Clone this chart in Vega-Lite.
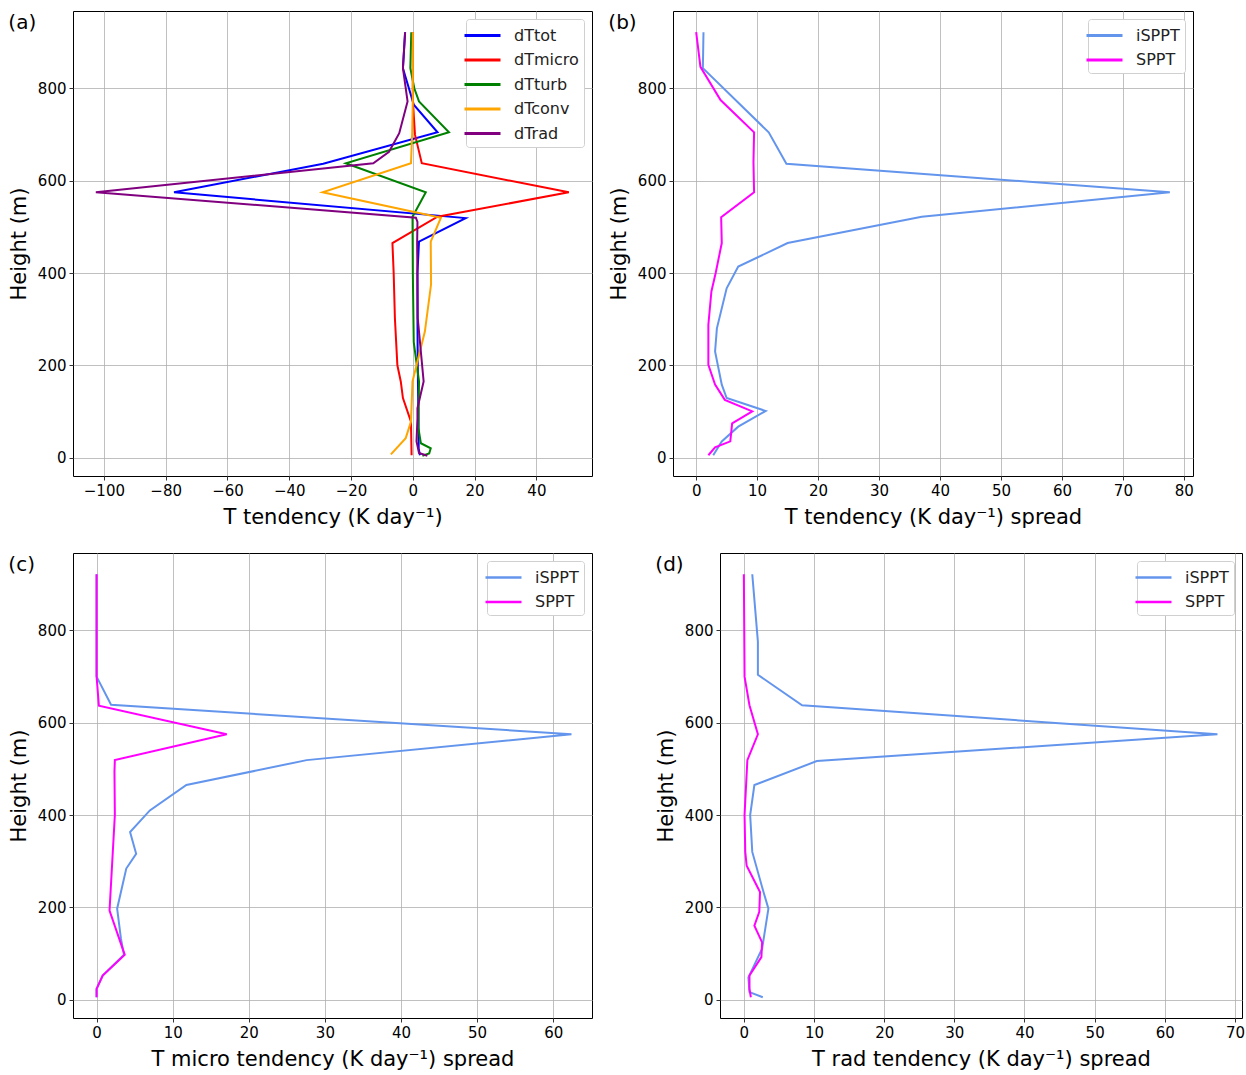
{
  "$schema": "https://vega.github.io/schema/vega-lite/v6.json",
  "padding": {"left": 7, "top": 10, "right": 0, "bottom": 0},
  "background": "white",
  "datasets": {
    "a": [
      {"s": "dTtot", "h": 922, "v": -2.5}, {"s": "dTtot", "h": 844, "v": -3.2}, {"s": "dTtot", "h": 765, "v": 0.3}, {"s": "dTtot", "h": 705, "v": 8.0}, {"s": "dTtot", "h": 637, "v": -29}, {"s": "dTtot", "h": 575, "v": -77.3}, {"s": "dTtot", "h": 519, "v": 17.1}, {"s": "dTtot", "h": 468, "v": 2.0}, {"s": "dTtot", "h": 400, "v": 1.5}, {"s": "dTtot", "h": 300, "v": 1.5}, {"s": "dTtot", "h": 200, "v": 1.6}, {"s": "dTtot", "h": 92, "v": 1.8}, {"s": "dTtot", "h": 20, "v": 1.9}, {"s": "dTtot", "h": 5, "v": 2.3},
      {"s": "dTmicro", "h": 922, "v": 0}, {"s": "dTmicro", "h": 845, "v": 0}, {"s": "dTmicro", "h": 775, "v": 0}, {"s": "dTmicro", "h": 700, "v": 0.7}, {"s": "dTmicro", "h": 638, "v": 2.9}, {"s": "dTmicro", "h": 575, "v": 50.5}, {"s": "dTmicro", "h": 522, "v": 8.0}, {"s": "dTmicro", "h": 465, "v": -6.6}, {"s": "dTmicro", "h": 400, "v": -6.2}, {"s": "dTmicro", "h": 302, "v": -5.8}, {"s": "dTmicro", "h": 200, "v": -5.0}, {"s": "dTmicro", "h": 165, "v": -3.9}, {"s": "dTmicro", "h": 129, "v": -3.2}, {"s": "dTmicro", "h": 78, "v": -0.6}, {"s": "dTmicro", "h": 5, "v": -0.4},
      {"s": "dTturb", "h": 922, "v": -0.5}, {"s": "dTturb", "h": 844, "v": -0.8}, {"s": "dTturb", "h": 800, "v": 0.5}, {"s": "dTturb", "h": 772, "v": 2.0}, {"s": "dTturb", "h": 705, "v": 11.7}, {"s": "dTturb", "h": 638, "v": -21.7}, {"s": "dTturb", "h": 575, "v": 4.2}, {"s": "dTturb", "h": 522, "v": -0.1}, {"s": "dTturb", "h": 400, "v": 0}, {"s": "dTturb", "h": 250, "v": 0.3}, {"s": "dTturb", "h": 165, "v": 2.0}, {"s": "dTturb", "h": 64, "v": 1.8}, {"s": "dTturb", "h": 31, "v": 2.6}, {"s": "dTturb", "h": 20, "v": 5.8}, {"s": "dTturb", "h": 9, "v": 5.3}, {"s": "dTturb", "h": 4, "v": 3.1},
      {"s": "dTconv", "h": 922, "v": 0}, {"s": "dTconv", "h": 845, "v": 0}, {"s": "dTconv", "h": 775, "v": 0}, {"s": "dTconv", "h": 705, "v": -0.2}, {"s": "dTconv", "h": 638, "v": -0.6}, {"s": "dTconv", "h": 575, "v": -29.2}, {"s": "dTconv", "h": 520, "v": 9.1}, {"s": "dTconv", "h": 468, "v": 5.8}, {"s": "dTconv", "h": 375, "v": 5.9}, {"s": "dTconv", "h": 273, "v": 3.9}, {"s": "dTconv", "h": 165, "v": -0.1}, {"s": "dTconv", "h": 78, "v": -0.6}, {"s": "dTconv", "h": 42, "v": -2.3}, {"s": "dTconv", "h": 7, "v": -7.1},
      {"s": "dTrad", "h": 922, "v": -2.5}, {"s": "dTrad", "h": 844, "v": -3.2}, {"s": "dTrad", "h": 772, "v": -1.7}, {"s": "dTrad", "h": 703, "v": -4.4}, {"s": "dTrad", "h": 663, "v": -7.7}, {"s": "dTrad", "h": 638, "v": -12.8}, {"s": "dTrad", "h": 575, "v": -102.6}, {"s": "dTrad", "h": 520, "v": 1.0}, {"s": "dTrad", "h": 511, "v": 1.5}, {"s": "dTrad", "h": 465, "v": 1.4}, {"s": "dTrad", "h": 302, "v": 1.6}, {"s": "dTrad", "h": 165, "v": 3.5}, {"s": "dTrad", "h": 107, "v": 1.5}, {"s": "dTrad", "h": 85, "v": 1.5}, {"s": "dTrad", "h": 35, "v": 1.2}, {"s": "dTrad", "h": 10, "v": 2.0}, {"s": "dTrad", "h": 4, "v": 4.7}
    ],
    "b": [
      {"s": "iSPPT", "h": 922, "v": 1.2}, {"s": "iSPPT", "h": 844, "v": 1.1}, {"s": "iSPPT", "h": 705, "v": 11.9}, {"s": "iSPPT", "h": 637, "v": 14.8}, {"s": "iSPPT", "h": 575, "v": 77.7}, {"s": "iSPPT", "h": 522, "v": 37.0}, {"s": "iSPPT", "h": 465, "v": 15.0}, {"s": "iSPPT", "h": 414, "v": 6.9}, {"s": "iSPPT", "h": 367, "v": 5.0}, {"s": "iSPPT", "h": 280, "v": 3.4}, {"s": "iSPPT", "h": 230, "v": 3.1}, {"s": "iSPPT", "h": 158, "v": 4.2}, {"s": "iSPPT", "h": 129, "v": 5.0}, {"s": "iSPPT", "h": 101, "v": 11.4}, {"s": "iSPPT", "h": 67, "v": 6.9}, {"s": "iSPPT", "h": 35, "v": 4.2}, {"s": "iSPPT", "h": 5, "v": 2.8},
      {"s": "SPPT", "h": 922, "v": 0}, {"s": "SPPT", "h": 847, "v": 0.7}, {"s": "SPPT", "h": 775, "v": 4.0}, {"s": "SPPT", "h": 705, "v": 9.5}, {"s": "SPPT", "h": 640, "v": 9.4}, {"s": "SPPT", "h": 575, "v": 9.5}, {"s": "SPPT", "h": 521, "v": 4.1}, {"s": "SPPT", "h": 465, "v": 4.2}, {"s": "SPPT", "h": 400, "v": 3.2}, {"s": "SPPT", "h": 360, "v": 2.5}, {"s": "SPPT", "h": 288, "v": 2.0}, {"s": "SPPT", "h": 201, "v": 2.0}, {"s": "SPPT", "h": 158, "v": 3.1}, {"s": "SPPT", "h": 125, "v": 4.7}, {"s": "SPPT", "h": 100, "v": 9.2}, {"s": "SPPT", "h": 74, "v": 5.9}, {"s": "SPPT", "h": 35, "v": 5.6}, {"s": "SPPT", "h": 22, "v": 3.1}, {"s": "SPPT", "h": 5, "v": 2.0}
    ],
    "c": [
      {"s": "iSPPT", "h": 922, "v": 0}, {"s": "iSPPT", "h": 700, "v": 0}, {"s": "iSPPT", "h": 639, "v": 1.9}, {"s": "iSPPT", "h": 575, "v": 62.4}, {"s": "iSPPT", "h": 519, "v": 27.6}, {"s": "iSPPT", "h": 465, "v": 11.8}, {"s": "iSPPT", "h": 410, "v": 7.0}, {"s": "iSPPT", "h": 363, "v": 4.4}, {"s": "iSPPT", "h": 316, "v": 5.2}, {"s": "iSPPT", "h": 284, "v": 3.9}, {"s": "iSPPT", "h": 197, "v": 2.7}, {"s": "iSPPT", "h": 132, "v": 3.2}, {"s": "iSPPT", "h": 97, "v": 3.6}, {"s": "iSPPT", "h": 52, "v": 0.8}, {"s": "iSPPT", "h": 23, "v": 0}, {"s": "iSPPT", "h": 5, "v": 0},
      {"s": "SPPT", "h": 922, "v": 0}, {"s": "SPPT", "h": 700, "v": 0}, {"s": "SPPT", "h": 637, "v": 0.3}, {"s": "SPPT", "h": 575, "v": 17.1}, {"s": "SPPT", "h": 519, "v": 2.4}, {"s": "SPPT", "h": 494, "v": 2.35}, {"s": "SPPT", "h": 400, "v": 2.4}, {"s": "SPPT", "h": 193, "v": 1.7}, {"s": "SPPT", "h": 97, "v": 3.7}, {"s": "SPPT", "h": 52, "v": 0.8}, {"s": "SPPT", "h": 23, "v": 0}, {"s": "SPPT", "h": 5, "v": 0}
    ],
    "d": [
      {"s": "iSPPT", "h": 922, "v": 1.2}, {"s": "iSPPT", "h": 776, "v": 2.0}, {"s": "iSPPT", "h": 704, "v": 2.0}, {"s": "iSPPT", "h": 638, "v": 8.3}, {"s": "iSPPT", "h": 575, "v": 67.5}, {"s": "iSPPT", "h": 517, "v": 10.4}, {"s": "iSPPT", "h": 465, "v": 1.5}, {"s": "iSPPT", "h": 400, "v": 0.9}, {"s": "iSPPT", "h": 320, "v": 1.2}, {"s": "iSPPT", "h": 233, "v": 2.8}, {"s": "iSPPT", "h": 197, "v": 3.5}, {"s": "iSPPT", "h": 110, "v": 2.6}, {"s": "iSPPT", "h": 48, "v": 0.65}, {"s": "iSPPT", "h": 16, "v": 0.8}, {"s": "iSPPT", "h": 5, "v": 2.7},
      {"s": "SPPT", "h": 922, "v": 0}, {"s": "SPPT", "h": 700, "v": 0.1}, {"s": "SPPT", "h": 638, "v": 0.8}, {"s": "SPPT", "h": 575, "v": 2.0}, {"s": "SPPT", "h": 519, "v": 0.5}, {"s": "SPPT", "h": 400, "v": 0.1}, {"s": "SPPT", "h": 320, "v": 0.2}, {"s": "SPPT", "h": 290, "v": 0.4}, {"s": "SPPT", "h": 233, "v": 2.3}, {"s": "SPPT", "h": 190, "v": 2.2}, {"s": "SPPT", "h": 160, "v": 1.5}, {"s": "SPPT", "h": 124, "v": 2.6}, {"s": "SPPT", "h": 92, "v": 2.5}, {"s": "SPPT", "h": 52, "v": 0.8}, {"s": "SPPT", "h": 23, "v": 0.8}, {"s": "SPPT", "h": 5, "v": 1.0}
    ]
  },
  "config": {
    "font": "DejaVu Sans",
    "view": {"stroke": "black", "strokeWidth": 1},
    "axis": {
      "domain": false, "grid": true, "gridColor": "#b0b0b0", "gridWidth": 0.8,
      "tickColor": "black", "tickSize": 4, "tickWidth": 0.8,
      "labelFont": "DejaVu Sans", "labelFontSize": 15, "labelColor": "black", "labelPadding": 3,
      "titleFont": "DejaVu Sans", "titleFontSize": 21, "titleFontWeight": "normal", "titleColor": "black"
    },
    "axisX": {"titlePadding": 8, "labelPadding": 3, "labelFlush": false},
    "axisY": {"titlePadding": 8, "labelFlush": false},
    "legend": {
      "orient": "top-right", "offset": 8, "title": null,
      "strokeColor": "#d0d0d0", "fillColor": "white", "cornerRadius": 3, "padding": 5,
      "symbolType": "M-1.8,0H1.8", "symbolSize": 400, "symbolStrokeWidth": 3,
      "labelFont": "DejaVu Sans", "labelFontSize": 16, "labelColor": "#222", "labelOffset": 20, "rowPadding": 4.5
    },
    "title": {"fontSize": 20, "fontWeight": "normal", "font": "DejaVu Sans", "color": "black", "anchor": "start", "frame": "bounds", "baseline": "top", "offset": -22}
  },
  "resolve": {"scale": {"color": "independent"}, "legend": {"color": "independent"}},
  "spacing": 24,
  "vconcat": [
    {
      "spacing": 14,
      "resolve": {"scale": {"color": "independent"}, "legend": {"color": "independent"}},
      "hconcat": [
        {
          "width": 519, "height": 465,
          "data": {"name": "a"},
          "title": {"text": "(a)"},
          "mark": {"type": "line", "strokeWidth": 2, "clip": true},
          "encoding": {
            "x": {"field": "v", "type": "quantitative", "scale": {"domain": [-110, 58], "nice": false, "zero": false}, "axis": {"values": [-100, -80, -60, -40, -20, 0, 20, 40], "title": "T tendency (K day⁻¹)"}},
            "y": {"field": "h", "type": "quantitative", "scale": {"domain": [-40, 968], "nice": false, "zero": false}, "axis": {"values": [0, 200, 400, 600, 800], "title": "Height (m)"}},
            "color": {"field": "s", "type": "nominal", "sort": ["dTtot", "dTmicro", "dTturb", "dTconv", "dTrad"], "scale": {"domain": ["dTtot", "dTmicro", "dTturb", "dTconv", "dTrad"], "range": ["#0000ff", "#ff0000", "#008000", "#ffa500", "#800080"]}},
            "order": {"field": "h", "type": "quantitative"}
          }
        },
        {
          "width": 520, "height": 465,
          "data": {"name": "b"},
          "title": {"text": "(b)"},
          "mark": {"type": "line", "strokeWidth": 2, "clip": true},
          "encoding": {
            "x": {"field": "v", "type": "quantitative", "scale": {"domain": [-3.8, 81.5], "nice": false, "zero": false}, "axis": {"values": [0, 10, 20, 30, 40, 50, 60, 70, 80], "title": "T tendency (K day⁻¹) spread"}},
            "y": {"field": "h", "type": "quantitative", "scale": {"domain": [-40, 968], "nice": false, "zero": false}, "axis": {"values": [0, 200, 400, 600, 800], "title": "Height (m)"}},
            "color": {"field": "s", "type": "nominal", "sort": ["iSPPT", "SPPT"], "scale": {"domain": ["iSPPT", "SPPT"], "range": ["#6495ed", "#ff00ff"]}},
            "order": {"field": "h", "type": "quantitative"}
          }
        }
      ]
    },
    {
      "spacing": 61,
      "resolve": {"scale": {"color": "independent"}, "legend": {"color": "independent"}},
      "hconcat": [
        {
          "width": 519, "height": 465,
          "data": {"name": "c"},
          "title": {"text": "(c)"},
          "mark": {"type": "line", "strokeWidth": 2, "clip": true},
          "encoding": {
            "x": {"field": "v", "type": "quantitative", "scale": {"domain": [-3.1, 65.1], "nice": false, "zero": false}, "axis": {"values": [0, 10, 20, 30, 40, 50, 60], "title": "T micro tendency (K day⁻¹) spread"}},
            "y": {"field": "h", "type": "quantitative", "scale": {"domain": [-40, 968], "nice": false, "zero": false}, "axis": {"values": [0, 200, 400, 600, 800], "title": "Height (m)"}},
            "color": {"field": "s", "type": "nominal", "sort": ["iSPPT", "SPPT"], "scale": {"domain": ["iSPPT", "SPPT"], "range": ["#6495ed", "#ff00ff"]}, "legend": {"symbolStrokeWidth": 2.5}},
            "order": {"field": "h", "type": "quantitative"}
          }
        },
        {
          "width": 522, "height": 465,
          "data": {"name": "d"},
          "title": {"text": "(d)"},
          "mark": {"type": "line", "strokeWidth": 2, "clip": true},
          "encoding": {
            "x": {"field": "v", "type": "quantitative", "scale": {"domain": [-3.4, 71], "nice": false, "zero": false}, "axis": {"values": [0, 10, 20, 30, 40, 50, 60, 70], "title": "T rad tendency (K day⁻¹) spread"}},
            "y": {"field": "h", "type": "quantitative", "scale": {"domain": [-40, 968], "nice": false, "zero": false}, "axis": {"values": [0, 200, 400, 600, 800], "title": "Height (m)"}},
            "color": {"field": "s", "type": "nominal", "sort": ["iSPPT", "SPPT"], "scale": {"domain": ["iSPPT", "SPPT"], "range": ["#6495ed", "#ff00ff"]}, "legend": {"symbolStrokeWidth": 2.5}},
            "order": {"field": "h", "type": "quantitative"}
          }
        }
      ]
    }
  ]
}
